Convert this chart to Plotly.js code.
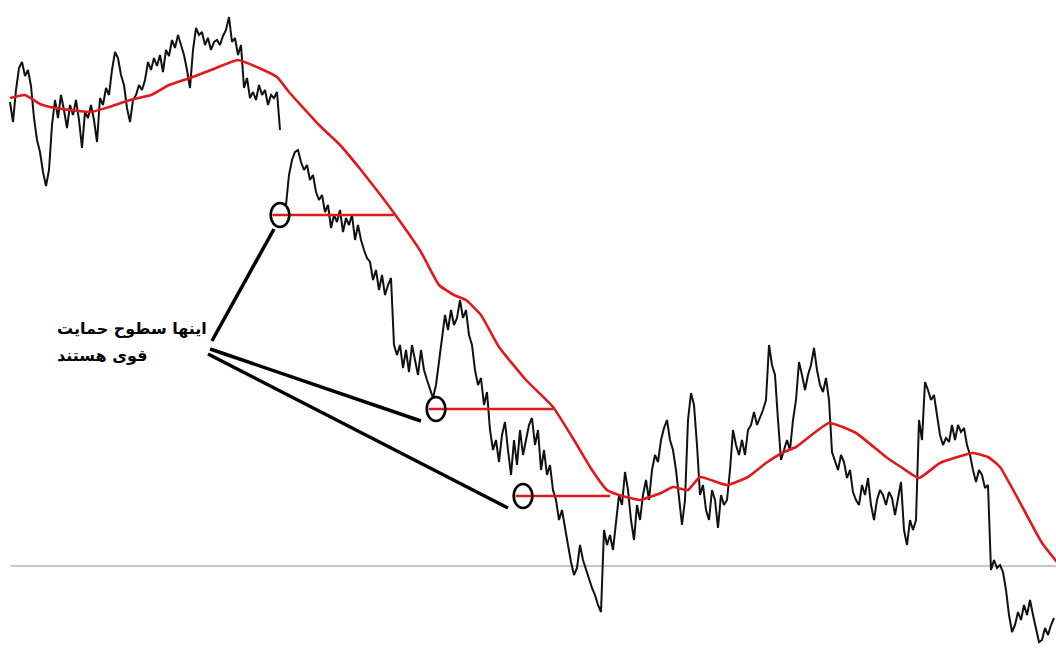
<!DOCTYPE html>
<html>
<head>
<meta charset="utf-8">
<script src="https://cdn.plot.ly/plotly-3.0.1.min.js"></script>
<style>html,body{margin:0;padding:0;background:#fff;}#chart{width:1056px;height:666px;}</style>
</head>
<body>
<div id="chart"></div>
<script>
// Price series (one value per trading day, vertical scale inverted as in the picture)
const price = [
102,122,90,68,62,76,70,86,118,140,152,172,186,170,
125,100,118,95,110,128,105,115,100,120,148,112,118,105,120,142,
98,105,88,95,70,52,58,75,85,108,122,100,95,85,90,80,62,70,58,66,
55,72,50,56,40,48,35,45,55,70,88,50,28,35,32,45,38,50,42,40,
45,36,30,17,42,38,55,45,88,78,98,92,100,85,95,90,105,95,98,92,
130,null,205,175,160,152,150,162,170,165,180,175,192,200,195,212,205,228,215,222,
210,232,218,225,215,240,225,240,250,258,262,280,270,290,275,295,285,278,345,355,
345,368,350,372,345,360,375,350,370,380,390,398,385,360,335,315,330,310,325,318,
300,318,310,335,345,370,385,378,405,392,430,450,440,462,435,422,450,475,440,465,
430,455,440,425,418,445,430,470,450,475,465,490,500,520,510,530,545,562,575,568,
545,560,570,580,588,595,605,612,530,545,535,550,520,495,505,472,490,520,540,505,
520,495,480,500,470,455,462,440,428,420,440,450,470,495,525,500,420,393,405,445,
495,485,510,520,490,500,528,495,505,500,470,430,445,455,440,455,430,425,412,425,
418,410,400,345,365,375,420,460,450,440,450,420,400,362,375,390,375,365,348,370,
385,392,378,400,452,460,470,455,462,478,470,492,500,505,485,495,478,505,520,500,
490,495,505,492,498,515,500,482,530,545,520,530,520,420,440,382,390,400,395,415,
435,445,438,442,425,440,425,432,428,445,455,470,482,470,475,488,485,570,560,568,
565,572,590,615,632,625,612,620,605,615,600,615,630,642,640,628,635,625,618
];
const days = price.map((_, i) => i);

// Moving average (sampled days and values)
const maDays = [0,5,10,15,20,27,33,40,47,53,60,67,76,83,89,93,103,110,117,123,128,137,143,148,152,157,163,172,181,188,194,199,203,210,217,221,226,230,239,246,252,258,262,273,282,292,297,303,310,321,326,330,338,344,349];
const maVals = [98,95,104,108,110,112,107,100,95,85,78,70,60,68,77,92,125,145,170,193,213,252,285,295,300,315,347,380,407,440,470,490,495,500,493,487,490,477,485,477,463,452,447,423,433,457,467,478,463,453,457,467,510,543,562];

// Support levels: day of the touch, price level, day where it meets the average
const supportDays = [90, 142, 171];
const supportLevels = [215, 409, 496];
const supportEnds = [128, 181, 200];

// Reference line level
const refLevel = 566;

// Label
const labelLines = ["اینها سطوح حمایت", "قوی هستند"];
const labelDay = 15;
const labelLevels = [328, 355];
const pointerStart = [[67.3, 341], [66.7, 349], [66, 354]];
const pointerEnd = [[88, 229], [137, 421], [166, 508]];

const RED = '#e0191c';

const traces = [
  {x: days, y: price, type: 'scatter', mode: 'lines', connectgaps: false,
   line: {color: '#111', width: 2}, hoverinfo: 'skip'},
  {x: maDays, y: maVals, type: 'scatter', mode: 'lines',
   line: {color: RED, width: 2.6, shape: 'spline', smoothing: 0.4}, hoverinfo: 'skip'}
];

const shapes = [];
shapes.push({type: 'line', xref: 'paper', yref: 'y', x0: 0.01, x1: 1, y0: refLevel, y1: refLevel,
  line: {color: '#b5b5b5', width: 1.5}, layer: 'below'});
supportDays.forEach((d, i) => {
  shapes.push({type: 'line', xref: 'x', yref: 'y', x0: d - 2.5, x1: supportEnds[i], y0: supportLevels[i], y1: supportLevels[i],
    line: {color: RED, width: 2.6}});
  shapes.push({type: 'circle', xref: 'x', yref: 'y', x0: d - 3.1, x1: d + 3.1, y0: supportLevels[i] - 12, y1: supportLevels[i] + 12,
    line: {color: '#000', width: 2.6}});
});
pointerStart.forEach((p, i) => {
  shapes.push({type: 'line', xref: 'x', yref: 'y', x0: p[0], y0: p[1], x1: pointerEnd[i][0], y1: pointerEnd[i][1],
    line: {color: '#000', width: 3.5}});
});

const annotations = labelLines.map((t, i) => ({
  x: labelDay, y: labelLevels[i], xref: 'x', yref: 'y', xanchor: 'left', yanchor: 'middle',
  text: '<b>' + t + '</b>', showarrow: false,
  font: {family: 'DejaVu Sans, Noto Sans, sans-serif', size: 16, color: '#000'}
}));

const layout = {
  width: 1056, height: 666,
  margin: {l: 0, r: 0, t: 0, b: 0},
  paper_bgcolor: '#fff', plot_bgcolor: '#fff',
  showlegend: false,
  xaxis: {range: [-3.333, 348.667], visible: false, fixedrange: true},
  yaxis: {range: [666, 0], visible: false, fixedrange: true},
  shapes: shapes,
  annotations: annotations
};

Plotly.newPlot('chart', traces, layout, {staticPlot: true, displayModeBar: false});
</script>
</body>
</html>
